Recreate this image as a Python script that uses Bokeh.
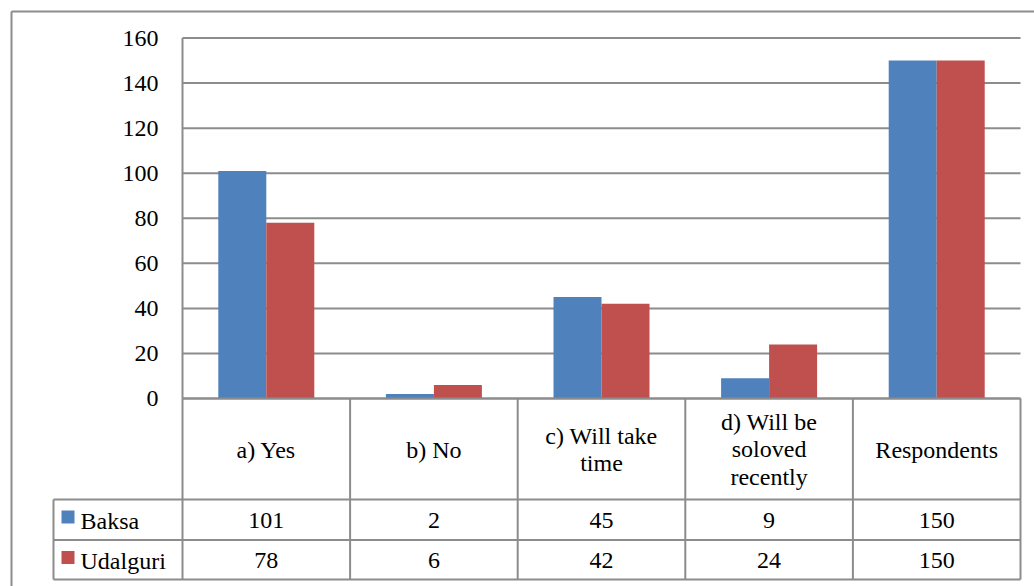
from bokeh.plotting import figure
from bokeh.models import Range1d, ColumnDataSource
from bokeh.core.properties import value
from bokeh.embed import file_html
from bokeh.resources import INLINE

# ---- data ----
categories = ["a) Yes", "b) No", "c) Will take\ntime", "d) Will be\nsoloved\nrecently", "Respondents"]
series_names = ["Baksa", "Udalguri"]
baksa = [101, 2, 45, 9, 150]
udalguri = [78, 6, 42, 24, 150]
y_ticks = [0, 20, 40, 60, 80, 100, 120, 140, 160]
colors = ["#4F81BD", "#C0504D"]

# ---- layout constants (pixels of the 1034x586 page) ----
W, H = 1034, 586
PLOT_L, PLOT_R = 182.0, 1020.0
Y0_PX, Y160_PX = 398.0, 37.5
N = len(categories)
CAT_PX = (PLOT_R - PLOT_L) / N
K = (Y0_PX - Y160_PX) / y_ticks[-1]

def X(px):
    return (px - PLOT_L) / CAT_PX

def Y(py):
    return (Y0_PX - py) / K

FONT = value("Liberation Serif")
FS = "24px"
GRID = "#8c8c8c"

p = figure(width=W, height=H, output_backend="svg", toolbar_location=None,
           x_range=Range1d(X(0), X(W)), y_range=Range1d(Y(H), Y(0)),
           x_axis_location=None, y_axis_location=None, min_border=0)
p.outline_line_color = None
p.grid.visible = False
p.background_fill_color = "white"
p.border_fill_color = "white"

# outer chart border (left and top)
p.segment(x0=[X(11), X(11)], y0=[Y(11), Y(11)], x1=[X(W + 5), X(11)], y1=[Y(11), Y(H + 5)],
          line_color=GRID, line_width=2)

# gridlines
p.segment(x0=[0] * (len(y_ticks) - 1), y0=y_ticks[1:], x1=[N] * (len(y_ticks) - 1), y1=y_ticks[1:],
          line_color=GRID, line_width=2)
# axis lines
p.segment(x0=[0, 0], y0=[0, 0], x1=[0, N], y1=[y_ticks[-1], 0], line_color=GRID, line_width=2)

# tick labels
p.text(x=[X(158)] * len(y_ticks), y=y_ticks, text=[str(t) for t in y_ticks],
       text_font=FONT, text_font_size=FS, text_align="right", text_baseline="middle",
       text_color="black")

# bars
bw = 48.0 / CAT_PX
idx = list(range(N))
src = ColumnDataSource(dict(xb=[i + 0.5 - bw / 2 for i in idx], xu=[i + 0.5 + bw / 2 for i in idx],
                            b=baksa, u=udalguri))
p.vbar(x="xb", top="b", bottom=0, width=bw, source=src, fill_color=colors[0], line_color=None)
p.vbar(x="xu", top="u", bottom=0, width=bw, source=src, fill_color=colors[1], line_color=None)
# redraw baseline over bars
p.segment(x0=[0], y0=[0], x1=[N], y1=[0], line_color=GRID, line_width=2)

# data table
row_y = [Y(499), Y(539.5), Y(579)]
xs_v = list(range(N + 1))
p.segment(x0=xs_v, y0=[0] * len(xs_v), x1=xs_v, y1=[row_y[2]] * len(xs_v), line_color=GRID, line_width=2)
p.segment(x0=[X(53)], y0=[row_y[0]], x1=[X(53)], y1=[row_y[2]], line_color=GRID, line_width=2)
p.segment(x0=[X(53)] * 3, y0=row_y, x1=[N] * 3, y1=row_y, line_color=GRID, line_width=2)

# header texts
p.text(x=[i + 0.5 for i in idx], y=[Y(449)] * N, text=categories,
       text_font=FONT, text_font_size=FS, text_align="center", text_baseline="middle",
       text_line_height=1.07, text_color="black")

# values
row_centers = [Y(520), Y(560)]
for r, vals in enumerate([baksa, udalguri]):
    p.text(x=[i + 0.5 for i in idx], y=[row_centers[r]] * N, text=[str(v) for v in vals],
           text_font=FONT, text_font_size=FS, text_align="center", text_baseline="middle",
           text_color="black")

# legend keys
p.scatter(x=[X(67.5)] * 2, y=[Y(516.5), Y(557)], marker="square", size=13,
          fill_color=colors, line_color=None)
p.text(x=[X(80)] * 2, y=row_centers, text=series_names,
       text_font=FONT, text_font_size=FS, text_align="left", text_baseline="middle",
       text_color="black")

open("out.html", "w").write(file_html(p, INLINE))
